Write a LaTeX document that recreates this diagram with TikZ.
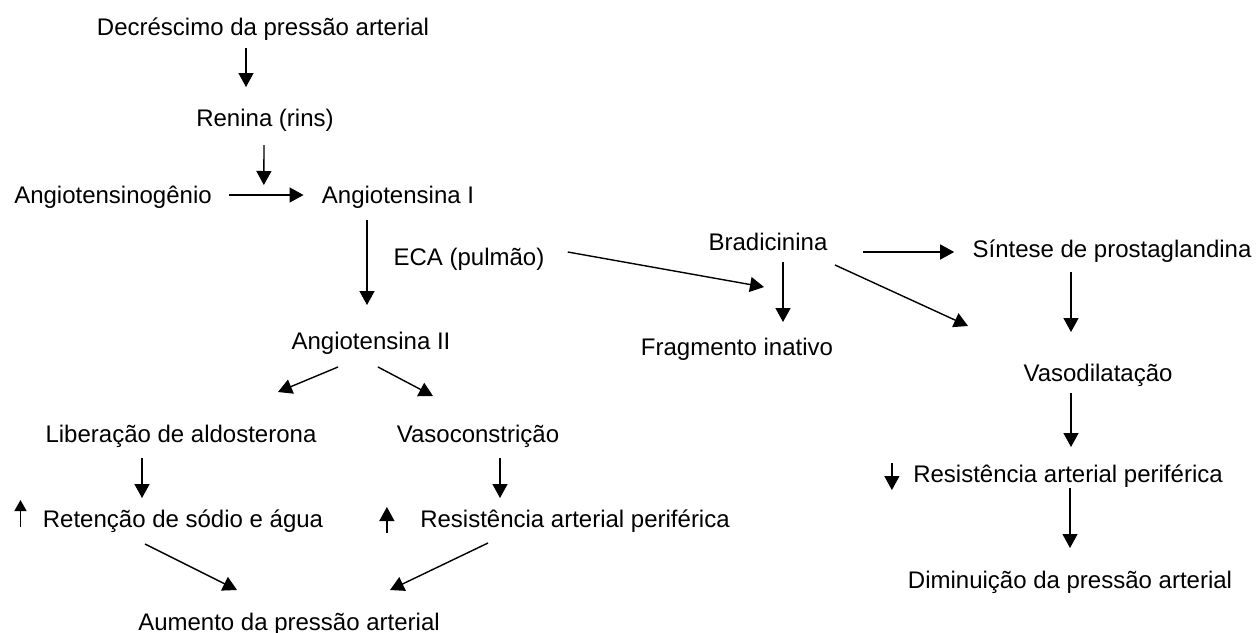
\documentclass[tikz,border=0pt]{standalone}
\usepackage{fontspec}
\setmainfont{Liberation Sans}
\usetikzlibrary{arrows.meta, calc}

\begin{document}
\begin{tikzpicture}[x=0.5pt, y=-0.5pt,
  lbl/.style={inner sep=0pt, text height=11pt, text depth=2.5pt, font=\fontsize{12}{14}\selectfont},
  arr/.style={line width=0.7pt, -{Triangle[length=7pt, width=7.5pt]}},
  tinyarr/.style={line width=0.7pt, -{Triangle[length=5.5pt, width=6pt]}}]
  \useasboundingbox (0,0) rectangle (1256,632);

  % renin-angiotensin chain
  \node[lbl] (decr) at (263,27) {Decréscimo da pressão arterial};
  \node[lbl] (renina) at (265,118) {Renina (rins)};
  \node[lbl] (angtg) at (113,195) {Angiotensinogênio};
  \node[lbl] (ang1) at (398,195) {Angiotensina I};
  \node[lbl] (eca) at (469,257) {ECA (pulmão)};
  \node[lbl] (ang2) at (371,341) {Angiotensina II};
  \node[lbl] (aldo) at (181,434) {Liberação de aldosterona};
  \node[lbl] (vcon) at (478,434) {Vasoconstrição};
  \node[lbl] (reten) at (183,519) {Retenção de sódio e água};
  \node[lbl] (resL) at (575,519) {Resistência arterial periférica};
  \node[lbl] (aum) at (289,622) {Aumento da pressão arterial};

  % bradykinin branch
  \node[lbl] (bkin) at (768,242) {Bradicinina};
  \node[lbl] (frag) at (737,347) {Fragmento inativo};
  \node[lbl] (prost) at (1112,249) {Síntese de prostaglandina};
  \node[lbl] (vdil) at (1098,373) {Vasodilatação};
  \node[lbl] (resR) at (1068,474) {Resistência arterial periférica};
  \node[lbl] (dimin) at (1070,580) {Diminuição da pressão arterial};

  % free ends
  \coordinate (join) at ($(angtg.east)!0.5!(ang1.west)$);
  \coordinate (ecahit) at ($(bkin)+(-4,45)$);
  \coordinate (vhit) at ($(bkin)+(200,84)$);

  % left side
  \draw[arr] ($(decr)+(-17,21)$) -- ($(renina)+(-19,-31)$);
  \draw[arr] ($(renina)+(-1,27)$) -- ($(join)+(-3,-10)$);
  \draw[arr] ($(angtg.east)+(17,0)$) -- ($(ang1.west)+(-18,0)$);
  \draw[arr] ($(ang1)+(-31,25)$) -- ($(ang2)+(-4,-36)$);
  \draw[arr] ($(ang2)+(-33,26)$) -- ($(aldo)+(97,-42)$);
  \draw[arr] ($(ang2)+(7,26)$) -- ($(vcon)+(-45,-38)$);
  \draw[arr] ($(aldo)+(-39,24)$) -- ($(reten)+(-41,-21)$);
  \draw[arr] ($(vcon)+(22,24)$) -- ($(resL)+(-75,-21)$);
  \draw[arr] ($(reten)+(-38,25)$) -- ($(aum)+(-52,-32)$);
  \draw[arr] ($(resL)+(-87,24)$) -- ($(aum)+(101,-32)$);
  \draw[tinyarr] ($(reten.west)+(-22,8)$) -- ($(reten.west)+(-22,-19)$);
  \draw[arr] ($(resL.west)+(-33,14)$) -- ($(resL.west)+(-33,-12)$);

  % right side
  \draw[arr] ($(eca.east)+(23,-5)$) -- (ecahit);
  \draw[arr] ($(bkin)+(15,20)$) -- ($(frag)+(46,-25)$);
  \draw[arr] ($(bkin.east)+(35,10)$) -- ($(prost.west)+(-18,3)$);
  \draw[arr] ($(bkin)+(67,23)$) -- (vhit);
  \draw[arr] ($(prost)+(-41,23)$) -- ($(vdil)+(-27,-41)$);
  \draw[arr] ($(vdil)+(-27,20)$) -- ($(resR)+(3,-27)$);
  \draw[arr] ($(resR.west)+(-21,-11)$) -- ($(resR.west)+(-21,16)$);
  \draw[arr] ($(resR)+(2,14)$) -- ($(dimin)+(0,-32)$);
\end{tikzpicture}
\end{document}
